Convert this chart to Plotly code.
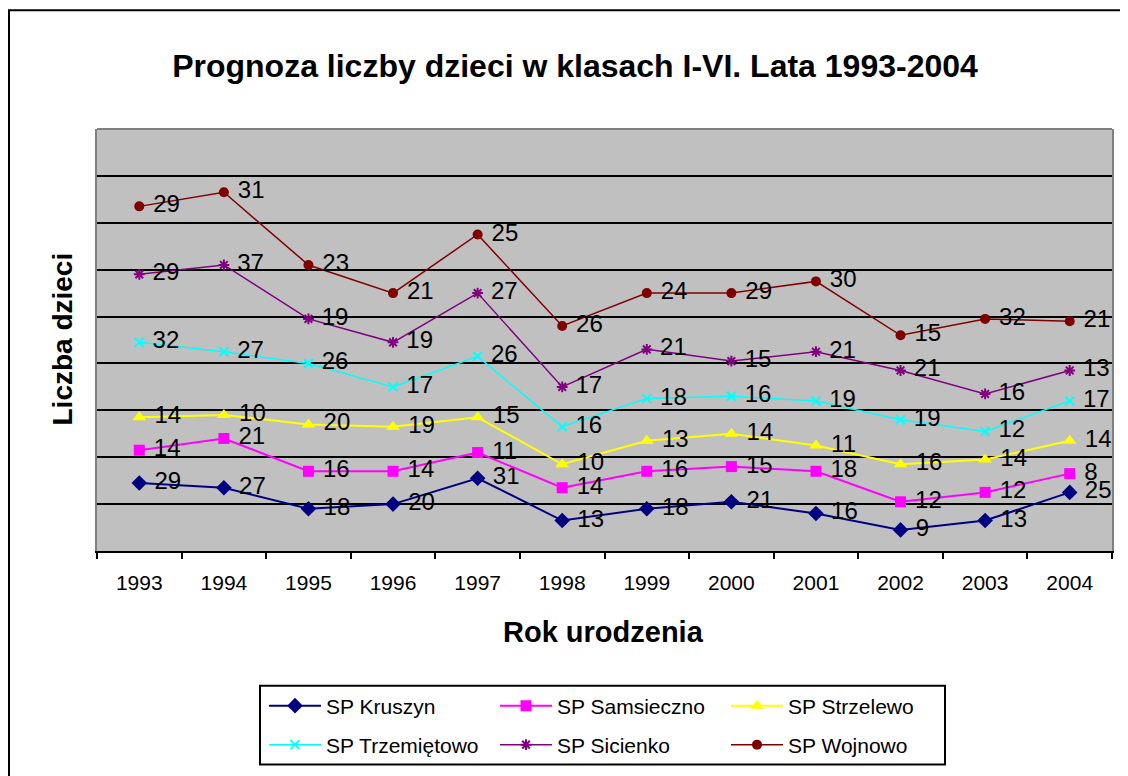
import plotly.graph_objects as go

years = ['1993', '1994', '1995', '1996', '1997', '1998', '1999', '2000', '2001', '2002', '2003', '2004']
kruszyn = [29, 27, 18, 20, 31, 13, 18, 21, 16, 9, 13, 25]
samsieczno = [14, 21, 16, 14, 11, 14, 16, 15, 18, 12, 12, 8]
strzelewo = [14, 10, 20, 19, 15, 10, 13, 14, 11, 16, 14, 14]
trzemietowo = [32, 27, 26, 17, 26, 16, 18, 16, 19, 19, 12, 17]
sicienko = [29, 37, 19, 19, 27, 17, 21, 15, 21, 21, 16, 13]
wojnowo = [29, 31, 23, 21, 25, 26, 24, 29, 30, 15, 32, 21]

series = [
    ('SP Kruszyn', kruszyn, '#000080', 'diamond', 12, 2, 'legend'),
    ('SP Samsieczno', samsieczno, '#FF00FF', 'square', 11, 2, 'legend'),
    ('SP Strzelewo', strzelewo, '#FFFF00', 'triangle-up', 12, 2, 'legend'),
    ('SP Trzemiętowo', trzemietowo, '#00FFFF', 'x-thin', 9, 1.5, 'legend2'),
    ('SP Sicienko', sicienko, '#800080', 'asterisk', 9, 1.5, 'legend2'),
    ('SP Wojnowo', wojnowo, '#800000', 'circle', 10, 1.5, 'legend2'),
]

OFF = 8  # page body margin
W, H = 1128 - OFF, 776 - OFF
L, R, T, B = 97, 1112, 129, 552
pw, ph = R - L, B - T

def px(x):
    return (x - L) / pw

def py(y):
    return (B - y) / ph

fig = go.Figure()
for name, vals, color, sym, size, lw, leg in series:
    fig.add_trace(go.Scatter(
        x=years, y=vals, name=name, stackgroup='one', fill='none',
        mode='lines+markers+text',
        text=['\u00a0' + str(v) for v in vals],
        textposition='middle right',
        textfont=dict(family='Arial, Liberation Sans', size=24, color='black'),
        line=dict(color=color, width=lw),
        marker=dict(symbol=sym, size=size, color=color,
                    line=dict(color=color, width=2 if sym in ('x-thin', 'asterisk') else 0)),
        legend=leg,
    ))

legend_common = dict(
    orientation='h', xanchor='left', yanchor='middle',
    font=dict(family='Arial, Liberation Sans', size=21, color='black'),
    bgcolor='rgba(0,0,0,0)', borderwidth=0,
    entrywidth=164, itemwidth=52, traceorder='normal',
)

fig.update_layout(
    width=W, height=H,
    margin=dict(l=L - OFF, r=1128 - R, t=T - OFF, b=776 - B),
    paper_bgcolor='white', plot_bgcolor='#C0C0C0',
    title=dict(text='<b>Prognoza liczby dzieci w klasach I-VI. Lata 1993-2004</b>',
               font=dict(family='Arial, Liberation Sans', size=32, color='black'),
               x=(575 - OFF) / W, xref='container', xanchor='center',
               y=1 - (66 - OFF) / H, yref='container', yanchor='middle'),
    showlegend=True,
    legend=dict(x=px(264), y=py(706), **legend_common),
    legend2=dict(x=px(264), y=py(745), **legend_common),
    xaxis=dict(type='category', range=[-0.5, 11.5], showgrid=False,
               showline=True, linecolor='black', linewidth=2,
               ticks='outside', tickson='boundaries', ticklen=6, tickcolor='black', tickwidth=2,
               tickfont=dict(family='Arial, Liberation Sans', size=21, color='black'),
               ticklabelstandoff=12),
    yaxis=dict(range=[0, 180], dtick=20, tick0=0, showgrid=True, gridcolor='black', gridwidth=2,
               showticklabels=False, ticks='', zeroline=False,
               showline=True, linecolor='#808080', linewidth=2, mirror=True),
    annotations=[
        dict(text='<b>Rok urodzenia</b>', xref='paper', yref='paper', x=px(603), y=py(633),
             showarrow=False, xanchor='center', yanchor='middle',
             font=dict(family='Arial, Liberation Sans', size=29, color='black')),
        dict(text='<b>Liczba dzieci</b>', xref='paper', yref='paper', x=px(63), y=py(340),
             showarrow=False, xanchor='center', yanchor='middle', textangle=-90,
             font=dict(family='Arial, Liberation Sans', size=28, color='black')),
    ],
    shapes=[
        dict(type='line', xref='paper', yref='paper', x0=0, x1=1, y0=1, y1=1,
             line=dict(color='#808080', width=2)),
        dict(type='rect', xref='paper', yref='paper', x0=px(260), x1=px(945), y0=py(687), y1=py(766),
             line=dict(color='black', width=2)),
        dict(type='rect', xref='paper', yref='paper', x0=px(9), x1=px(1140), y0=py(10), y1=py(800),
             line=dict(color='black', width=2)),
    ],
)

fig.write_html('out.html')
